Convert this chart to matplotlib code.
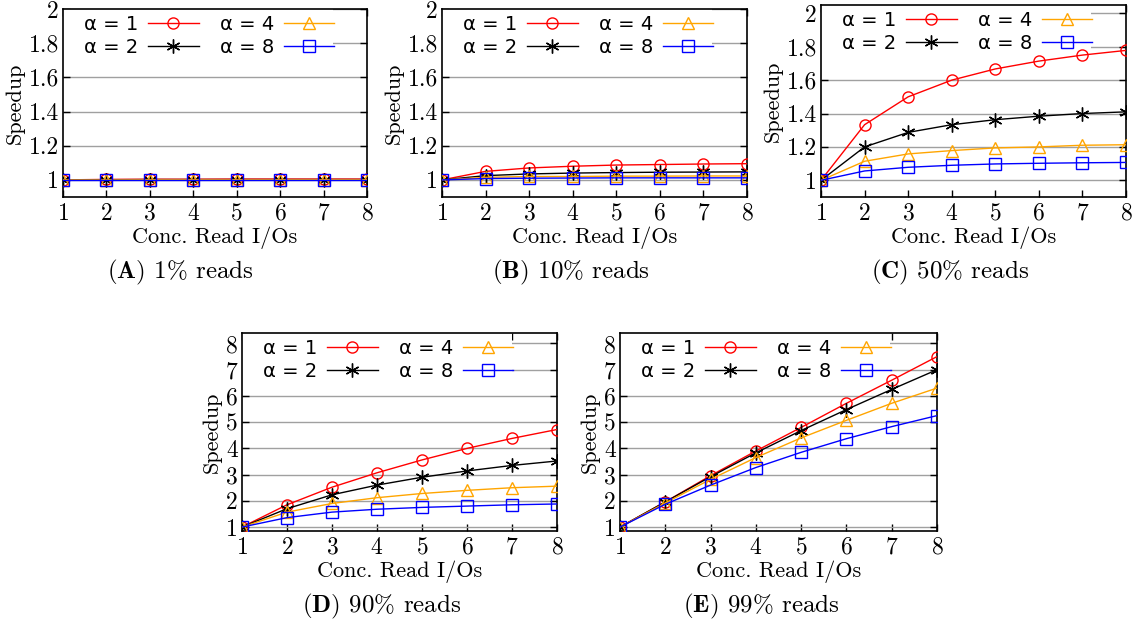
import matplotlib
matplotlib.use("Agg")
import matplotlib.pyplot as plt
from matplotlib.patches import Rectangle
from matplotlib.ticker import FuncFormatter

plt.rcParams["mathtext.fontset"] = "cm"
plt.rcParams["axes.formatter.use_mathtext"] = True

# 数据：并发读 I/O 数 vs. 加速比
conc = [1, 2, 3, 4, 5, 6, 7, 8]
alphas = ["1", "2", "4", "8"]

a_reads1 = [1.0, 1.003, 1.004, 1.004, 1.005, 1.005, 1.005, 1.005]
a_reads2 = [1.0, 1.001, 1.002, 1.002, 1.002, 1.002, 1.002, 1.002]
a_reads4 = [1.0, 1.0, 1.001, 1.001, 1.001, 1.001, 1.001, 1.001]
a_reads8 = [1.0, 1.0, 1.0, 1.0, 1.0, 1.0, 1.0, 1.0]

b_reads1 = [1.0, 1.05, 1.07, 1.08, 1.087, 1.09, 1.093, 1.095]
b_reads2 = [1.0, 1.025, 1.035, 1.04, 1.043, 1.045, 1.046, 1.047]
b_reads4 = [1.0, 1.015, 1.02, 1.02, 1.022, 1.022, 1.023, 1.023]
b_reads8 = [1.0, 1.008, 1.01, 1.011, 1.012, 1.012, 1.012, 1.012]

c_reads1 = [1.0, 1.333, 1.5, 1.6, 1.667, 1.714, 1.75, 1.778]
c_reads2 = [1.0, 1.2, 1.287, 1.333, 1.363, 1.384, 1.4, 1.41]
c_reads4 = [1.0, 1.114, 1.158, 1.178, 1.194, 1.2, 1.21, 1.213]
c_reads8 = [1.0, 1.056, 1.078, 1.09, 1.098, 1.102, 1.105, 1.107]

d_reads1 = [1.0, 1.85, 2.52, 3.07, 3.56, 4.0, 4.38, 4.72]
d_reads2 = [1.0, 1.7, 2.23, 2.6, 2.9, 3.14, 3.35, 3.52]
d_reads4 = [1.0, 1.57, 1.9, 2.12, 2.28, 2.4, 2.5, 2.56]
d_reads8 = [1.0, 1.36, 1.57, 1.68, 1.75, 1.8, 1.85, 1.88]

e_reads1 = [1.0, 1.96, 2.96, 3.9, 4.8, 5.72, 6.6, 7.5]
e_reads2 = [1.0, 1.96, 2.92, 3.83, 4.68, 5.48, 6.25, 7.0]
e_reads4 = [1.0, 1.92, 2.82, 3.65, 4.4, 5.07, 5.72, 6.3]
e_reads8 = [1.0, 1.87, 2.6, 3.27, 3.85, 4.37, 4.83, 5.25]

yticks_small = [1, 1.2, 1.4, 1.6, 1.8, 2]
yticks_big = [1, 2, 3, 4, 5, 6, 7, 8]
captions = [r"$\mathbf{(A)}$ 1% reads", r"$\mathbf{(B)}$ 10% reads",
            r"$\mathbf{(C)}$ 50% reads", r"$\mathbf{(D)}$ 90% reads",
            r"$\mathbf{(E)}$ 99% reads"]

# 样式（gnuplot 风格）
COLORS = ["#ff0000", "#000000", "#ffa500", "#0000ff"]
MARKERS = ["o", (6, 2, 0), "^", "s"]
MSIZE = [8, 10, 8, 8]
GRIDC = "#a0a0a0"
SERIF = "cmr10"
W, H = 1143, 629

# 每个子图：像素框 (左, 上, 右, 下)、数据、y 范围、刻度、标题中心 x
panels = [
    ((63, 9, 367, 197), [a_reads1, a_reads2, a_reads4, a_reads8], (0.9, 2.0), yticks_small, 180),
    ((442, 9, 747, 197), [b_reads1, b_reads2, b_reads4, b_reads8], (0.9, 2.0), yticks_small, 571),
    ((821, 5, 1126, 197), [c_reads1, c_reads2, c_reads4, c_reads8], (0.9, 2.05), yticks_small, 950),
    ((242, 333, 557, 531), [d_reads1, d_reads2, d_reads4, d_reads8], (0.85, 8.4), yticks_big, 382),
    ((620, 333, 937, 531), [e_reads1, e_reads2, e_reads4, e_reads8], (0.85, 8.4), yticks_big, 761),
]

fig = plt.figure(figsize=(W / 100, H / 100), dpi=100)
fig.patch.set_facecolor("white")

for i, (box, series, ylim, yticks, capx) in enumerate(panels):
    l, t, r, b = box
    wpx, hpx = r - l, b - t
    ax = fig.add_axes([l / W, 1 - b / H, wpx / W, hpx / H])
    for ys, a, c, m, ms in zip(series, alphas, COLORS, MARKERS, MSIZE):
        ax.plot(conc, ys, color=c, lw=1, marker=m, ms=ms, mfc="none", mec=c, mew=1,
                label=f"α = {a}", zorder=3)
    ax.set_xlim(1, 8)
    ax.set_ylim(*ylim)
    ax.set_xticks(conc)
    ax.set_yticks(yticks)
    ax.yaxis.set_major_formatter(FuncFormatter(lambda v, p: f"{v:g}"))
    ax.grid(True, axis="y", color=GRIDC, lw=1)
    ax.set_axisbelow(True)
    ax.tick_params(direction="in", length=5, width=1, top=True, right=True,
                   labelsize=17)
    ax.tick_params(axis="y", pad=3)
    ax.tick_params(axis="x", pad=4)
    for lab in ax.get_xticklabels() + ax.get_yticklabels():
        lab.set_fontfamily(SERIF)
    for sp in ax.spines.values():
        sp.set_linewidth(1.2)
    ax.set_xlabel("Conc. Read I/Os", fontfamily=SERIF, fontsize=16, labelpad=1)
    ax.set_ylabel("Speedup", fontfamily=SERIF, fontsize=16, labelpad=3)

    # 图例底板：遮住网格线（gnuplot key box 的效果）
    ax.add_patch(Rectangle((0, 1 - 54 / hpx), 270 / wpx, 54 / hpx, transform=ax.transAxes,
                           facecolor="white", edgecolor="none", zorder=1))
    ax.legend(loc="upper left", bbox_to_anchor=(21 / wpx, 1 - 6 / hpx), ncol=2,
              markerfirst=False, fontsize=14, frameon=False,
              handlelength=2.6, handletextpad=0.5, columnspacing=1.1,
              borderpad=0, labelspacing=0.2, borderaxespad=0)

    fig.text(capx / W, 1 - (272 if i < 3 else 606) / H, captions[i], fontfamily=SERIF,
             fontsize=18, ha="center", va="center")

fig.savefig("out.png", dpi=100, facecolor="white")
